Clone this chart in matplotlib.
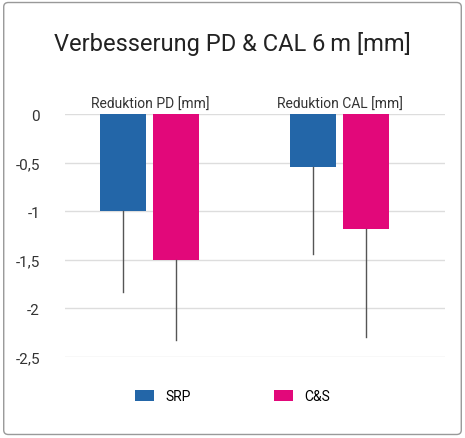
import matplotlib.pyplot as plt
import numpy as np
from matplotlib.patches import FancyBboxPatch

plt.rcParams['font.family'] = ['Roboto', 'DejaVu Sans']

categories = ['Reduktion PD [mm]', 'Reduktion CAL [mm]']
series = ['SRP', 'C&S']
srp = [-1.0, -0.55]
cs = [-1.5, -1.18]
srp_err = [0.83, 0.89]
cs_err = [0.83, 1.11]
colors = ['#2366a8', '#e2087a']

fig = plt.figure(figsize=(4.65, 4.39), dpi=100)
fig.patches.append(FancyBboxPatch((0.008, 0.008), 0.984, 0.984, boxstyle='round,pad=0,rounding_size=0.01',
                                  transform=fig.transFigure, fill=False, edgecolor='#999999', lw=1))
ax = fig.add_axes([0.14, 0.1845, 0.817, 0.5535])
x = np.arange(len(categories))
w = 0.247
for off, vals, errs, c, lab in [(-0.142, srp, srp_err, colors[0], series[0]),
                                (0.137, cs, cs_err, colors[1], series[1])]:
    ax.bar(x + off, vals, w, color=c, label=lab, zorder=2)
    for xi, v, e in zip(x + off, vals, errs):
        ax.plot([xi, xi], [v, v - e], color='#555555', lw=1, zorder=3)
ax.set_xlim(-0.447, 1.553)
ax.set_ylim(-2.5, 0)
ticks = [0, -0.5, -1, -1.5, -2, -2.5]
ax.set_yticks(ticks)
ax.set_yticklabels(['0', '-0,5', '-1', '-1,5', '-2', '-2,5'], fontsize=11, color='#333333')
ax.set_xticks([])
ax.grid(axis='y', color='#dddddd', lw=1, zorder=0)
ax.tick_params(axis='y', length=0, pad=18)
for s in ax.spines.values():
    s.set_visible(False)
for xi, cat in zip(x, categories):
    ax.text(xi, 0.11, cat, ha='center', va='center', fontsize=10, color='#333333',
            transform=ax.get_xaxis_transform() if False else ax.transData)
fig.text(0.5, 0.9, 'Verbesserung PD & CAL 6\u2009m [mm]', ha='center', va='center', fontsize=17, color='#222222')
fig.legend(loc='center', bbox_to_anchor=(0.5, 0.095), ncol=2, frameon=False, fontsize=10,
           handlelength=1.4, handleheight=0.9, columnspacing=6)
fig.savefig('out.png', dpi=100)
